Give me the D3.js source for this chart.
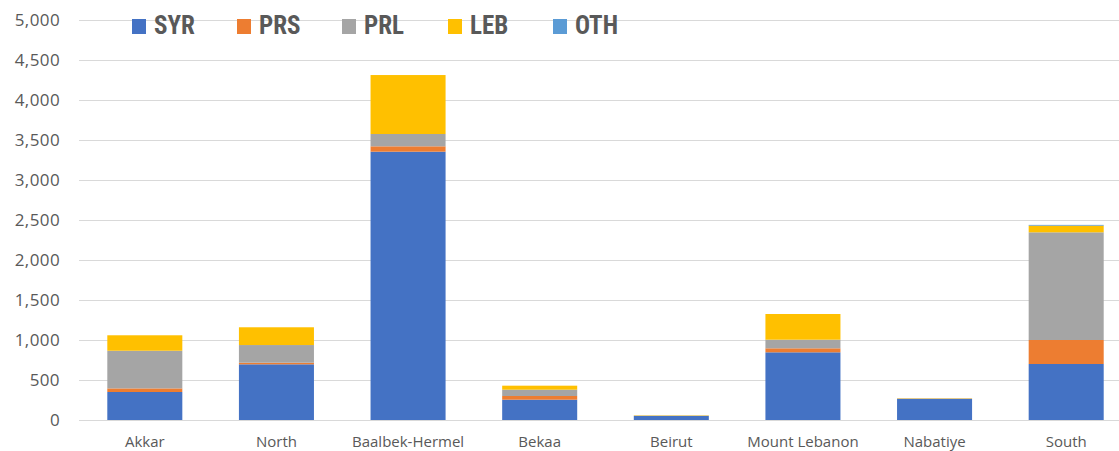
<!DOCTYPE html>
<html><head><meta charset="utf-8">
<script src="https://cdn.jsdelivr.net/npm/d3@7"></script>
<style>body{margin:0;background:#fff;} svg{display:block;}</style>
</head><body>
<svg id="chart" width="1119" height="451"></svg>
<script>
const categories = ["Akkar","North","Baalbek-Hermel","Bekaa","Beirut","Mount Lebanon","Nabatiye","South"];
const seriesNames = ["SYR","PRS","PRL","LEB","OTH"];
const SYR = [350, 696, 3354, 254, 52, 846, 265, 700];
const PRS = [45, 20, 67, 46, 0, 50, 2, 300];
const PRL = [471, 221, 154, 79, 2, 108, 2, 1346];
const LEB = [193, 222, 737, 50, 5, 321, 4, 83];
const OTH = [0, 0, 0, 0, 0, 0, 0, 10];
const yTicks = [0,500,1000,1500,2000,2500,3000,3500,4000,4500,5000];
const colors = ["#4472C4","#ED7D31","#A5A5A5","#FFC000","#5B9BD5"];
</script>
<script>
const seriesVals = [SYR, PRS, PRL, LEB, OTH];
const rows = categories.map((c,i)=>{const r={cat:c}; seriesNames.forEach((s,j)=>r[s]=seriesVals[j][i]); return r;});
const stack = d3.stack().keys(seriesNames)(rows);

const svg = d3.select("#chart");
const m = {left:79, right:1132, top:20, bottom:420};
const x = d3.scaleBand().domain(categories).range([m.left, m.right]).paddingInner(0.43).paddingOuter(0.215);
const y = d3.scaleLinear().domain([0,5000]).range([m.bottom, m.top]);
const tickFont = "'Open Sans', 'Liberation Sans', Arial, sans-serif";

// gridlines
svg.append("g").selectAll("line").data(yTicks).join("line")
  .attr("x1", m.left).attr("x2", m.right)
  .attr("y1", d=>y(d)+0.5).attr("y2", d=>y(d)+0.5)
  .attr("stroke", "#d9d9d9").attr("stroke-width", 1);

// y axis labels
const yAxis = d3.axisLeft(y).tickValues(yTicks).tickFormat(d3.format(",")).tickSize(0).tickPadding(0);
const yg = svg.append("g").attr("transform", `translate(60,0)`).call(yAxis);
yg.select(".domain").remove();
yg.selectAll("text").attr("fill","#595959").style("font-family",tickFont).style("font-size","17px").style("letter-spacing","0.4px");

// bars
svg.append("g").selectAll("g").data(stack).join("g")
  .attr("fill", (d,i)=>colors[i])
  .selectAll("rect").data(d=>d).join("rect")
  .attr("x", d=>x(d.data.cat))
  .attr("width", x.bandwidth())
  .attr("y", d=>y(d[1]))
  .attr("height", d=>Math.max(0, y(d[0])-y(d[1])));

// x axis labels
const xAxis = d3.axisBottom(x).tickSize(0).tickPadding(0);
const xg = svg.append("g").attr("transform", `translate(0,${m.bottom})`).call(xAxis);
xg.select(".domain").remove();
xg.selectAll("text").attr("fill","#595959").attr("dy", null).attr("y", 27)
  .style("font-family",tickFont).style("font-size","15px");

// legend
const lg = svg.append("g");
const legX = [132, 237, 342, 448, 553];
seriesNames.forEach((s,i)=>{
  lg.append("rect").attr("x", legX[i]).attr("y", 19).attr("width", 14).attr("height", 15).attr("fill", colors[i]);
  lg.append("text").attr("x", legX[i]+22).attr("y", 34).text(s)
    .attr("fill","#595959").style("font-family","'Liberation Sans Narrow', 'Roboto Condensed', Arial, sans-serif")
    .style("font-weight","bold").style("font-size","25px");
});
</script>
</body></html>
